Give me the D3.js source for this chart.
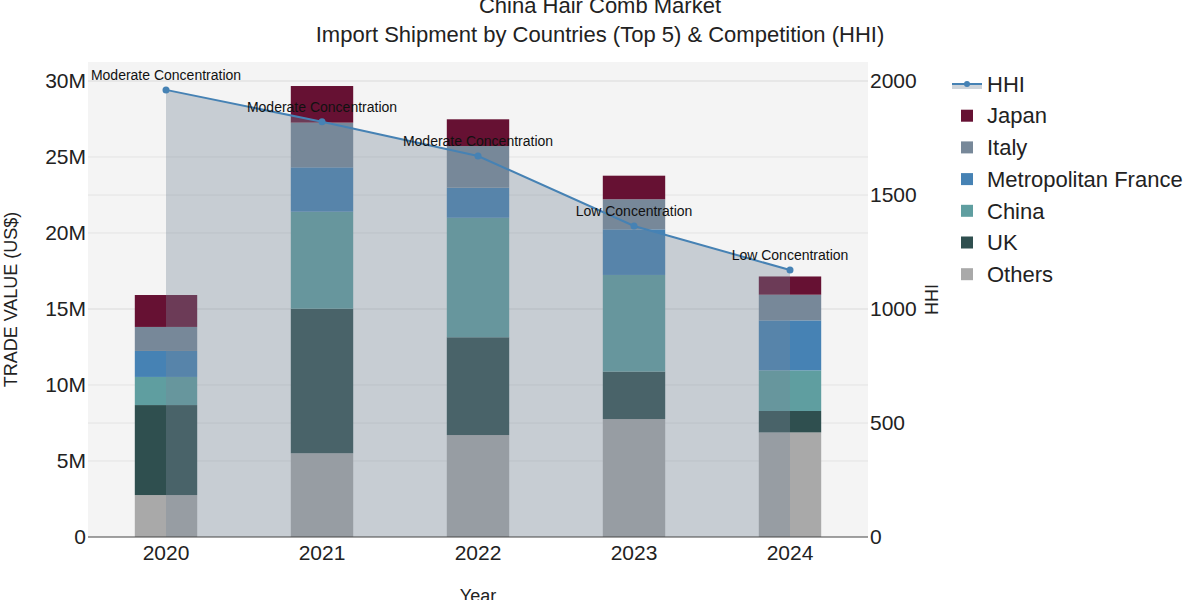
<!DOCTYPE html>
<html>
<head>
<meta charset="utf-8">
<script src="https://cdn.jsdelivr.net/npm/d3@7"></script>
<style>
  body { margin: 0; background: #fff; }
  svg { font-family: "Liberation Sans", Arial, sans-serif; }
</style>
</head>
<body>
<svg id="chart" width="1200" height="600"></svg>
<script>
// data
const years = ["2020", "2021", "2022", "2023", "2024"];
const countries = ["Others", "UK", "China", "Metropolitan France", "Italy", "Japan"];
const others = [2.76e6, 5.51e6, 6.71e6, 7.76e6, 6.88e6];
const uk = [5.92e6, 9.51e6, 6.43e6, 3.12e6, 1.41e6];
const china = [1.85e6, 6.38e6, 7.86e6, 6.36e6, 2.67e6];
const france = [1.71e6, 2.92e6, 1.98e6, 3.00e6, 3.29e6];
const italy = [1.58e6, 2.94e6, 2.74e6, 1.98e6, 1.69e6];
const japan = [2.10e6, 2.41e6, 1.76e6, 1.55e6, 1.20e6];
const hhi = [1961, 1821, 1671, 1364, 1171];
const hhiLabels = ["Moderate Concentration", "Moderate Concentration", "Moderate Concentration", "Low Concentration", "Low Concentration"];
const leftTicks = [0, 5e6, 10e6, 15e6, 20e6, 25e6, 30e6];
const rightTicks = [0, 500, 1000, 1500, 2000];
const colors = {
  "Japan": "#661133",
  "Italy": "#778899",
  "Metropolitan France": "#4682b4",
  "China": "#5f9ea0",
  "UK": "#2f4f4f",
  "Others": "#a9a9a9"
};

const seriesValues = {
  "Others": others, "UK": uk, "China": china,
  "Metropolitan France": france, "Italy": italy, "Japan": japan
};
const rows = years.map((y, i) => {
  const r = { year: y };
  countries.forEach(c => r[c] = seriesValues[c][i]);
  return r;
});

const margin = { top: 62, right: 332, bottom: 63, left: 88 };
const width = 1200, height = 600;
const svg = d3.select("#chart");

const x = d3.scaleBand()
  .domain(years)
  .range([margin.left, width - margin.right])
  .paddingInner(0.6)
  .paddingOuter(0.3);
const cx = d => x(d) + x.bandwidth() / 2;

const y = d3.scaleLinear()
  .domain([0, 31.25e6])
  .range([height - margin.bottom, margin.top]);

const yR = d3.scaleLinear()
  .domain([0, 2083.3])
  .range([height - margin.bottom, margin.top]);

// plot background
svg.append("rect")
  .attr("x", margin.left)
  .attr("y", margin.top)
  .attr("width", width - margin.left - margin.right)
  .attr("height", height - margin.top - margin.bottom)
  .attr("fill", "#f4f4f4");

// gridlines for both axes
svg.append("g")
  .selectAll("line")
  .data(leftTicks.slice(1))
  .join("line")
  .attr("x1", margin.left)
  .attr("x2", width - margin.right)
  .attr("y1", d => y(d))
  .attr("y2", d => y(d))
  .attr("stroke", "#e3e3e3");

svg.append("g")
  .selectAll("line")
  .data(rightTicks.slice(1))
  .join("line")
  .attr("x1", margin.left)
  .attr("x2", width - margin.right)
  .attr("y1", d => yR(d))
  .attr("y2", d => yR(d))
  .attr("stroke", "#e3e3e3");

// stacked bars
const stacked = d3.stack().keys(countries)(rows);
svg.append("g")
  .selectAll("g")
  .data(stacked)
  .join("g")
  .attr("fill", d => colors[d.key])
  .selectAll("rect")
  .data(d => d)
  .join("rect")
  .attr("x", d => x(d.data.year))
  .attr("width", x.bandwidth())
  .attr("y", d => y(d[1]))
  .attr("height", d => y(d[0]) - y(d[1]));

// HHI area + line (drawn over bars)
const hhiData = years.map((yr, i) => ({ year: yr, v: hhi[i], label: hhiLabels[i] }));

svg.append("path")
  .datum(hhiData)
  .attr("fill", "rgba(119,136,153,0.36)")
  .attr("d", d3.area()
    .x(d => cx(d.year))
    .y0(yR(0))
    .y1(d => yR(d.v)));

svg.append("path")
  .datum(hhiData)
  .attr("fill", "none")
  .attr("stroke", "#4682b4")
  .attr("stroke-width", 2)
  .attr("d", d3.line()
    .x(d => cx(d.year))
    .y(d => yR(d.v)));

svg.append("g")
  .selectAll("circle")
  .data(hhiData)
  .join("circle")
  .attr("cx", d => cx(d.year))
  .attr("cy", d => yR(d.v))
  .attr("r", 3.5)
  .attr("fill", "#4682b4");

svg.append("g")
  .selectAll("text")
  .data(hhiData)
  .join("text")
  .attr("x", d => cx(d.year))
  .attr("y", d => yR(d.v) - 10)
  .attr("text-anchor", "middle")
  .style("font-size", "14px")
  .attr("fill", "#111")
  .text(d => d.label);

// axes
const xAxis = svg.append("g")
  .attr("transform", `translate(0,${height - margin.bottom})`)
  .call(d3.axisBottom(x).tickSize(0).tickPadding(8));
xAxis.select(".domain").attr("stroke", "#444").attr("d", `M${margin.left},0H${width - margin.right}`);
xAxis.selectAll("text").style("font-size", "21px").attr("fill", "#222")
  .attr("font-family", "Liberation Sans, Arial, sans-serif");

const fmtM = d => d === 0 ? "0" : (d / 1e6) + "M";
const yAxis = svg.append("g")
  .attr("transform", `translate(${margin.left},0)`)
  .call(d3.axisLeft(y).tickValues(leftTicks).tickFormat(fmtM).tickSize(0).tickPadding(2));
yAxis.select(".domain").remove();
yAxis.selectAll("text").style("font-size", "21px").attr("fill", "#222")
  .attr("font-family", "Liberation Sans, Arial, sans-serif");

const yAxisR = svg.append("g")
  .attr("transform", `translate(${width - margin.right},0)`)
  .call(d3.axisRight(yR).tickValues(rightTicks).tickFormat(d3.format("d")).tickSize(0).tickPadding(2));
yAxisR.select(".domain").remove();
yAxisR.selectAll("text").style("font-size", "21px").attr("fill", "#222")
  .attr("font-family", "Liberation Sans, Arial, sans-serif");

// axis titles
svg.append("text")
  .attr("transform", `translate(17,${(margin.top + height - margin.bottom) / 2}) rotate(-90)`)
  .attr("text-anchor", "middle")
  .style("font-size", "18px")
  .attr("fill", "#222")
  .text("TRADE VALUE (US$)");

svg.append("text")
  .attr("transform", `translate(938,${(margin.top + height - margin.bottom) / 2}) rotate(-90)`)
  .attr("text-anchor", "middle")
  .style("font-size", "18px")
  .attr("fill", "#222")
  .text("HHI");

svg.append("text")
  .attr("x", (margin.left + width - margin.right) / 2)
  .attr("y", 602)
  .attr("text-anchor", "middle")
  .style("font-size", "18px")
  .attr("fill", "#222")
  .text("Year");

// title
const title = svg.append("text")
  .attr("text-anchor", "middle")
  .style("font-size", "22px")
  .attr("fill", "#222");
title.append("tspan").attr("x", 600).attr("y", 13).text("China Hair Comb Market");
title.append("tspan").attr("x", 600).attr("y", 42).text("Import Shipment by Countries (Top 5) & Competition (HHI)");

// legend
const legend = svg.append("g").attr("transform", "translate(952,84)");
const hhiItem = legend.append("g");
hhiItem.append("rect").attr("x", 0).attr("y", 0).attr("width", 30).attr("height", 5).attr("fill", "rgba(119,136,153,0.36)");
hhiItem.append("line").attr("x1", 0).attr("x2", 30).attr("y1", 0).attr("y2", 0).attr("stroke", "#4682b4").attr("stroke-width", 2);
hhiItem.append("circle").attr("cx", 15).attr("cy", 0).attr("r", 3).attr("fill", "#4682b4");
hhiItem.append("text").attr("x", 35).attr("y", 0).attr("dy", "0.35em").style("font-size", "22px").attr("fill", "#222").text("HHI");

const legendOrder = countries.slice().reverse();
const items = legend.selectAll("g.item")
  .data(legendOrder)
  .join("g")
  .attr("class", "item")
  .attr("transform", (d, i) => `translate(0,${(i + 1) * 31.7})`);
items.append("rect")
  .attr("x", 9).attr("y", -6).attr("width", 12).attr("height", 12)
  .attr("fill", d => colors[d]);
items.append("text")
  .attr("x", 35).attr("y", 0).attr("dy", "0.35em")
  .style("font-size", "22px").attr("fill", "#222")
  .text(d => d);
</script>
</body>
</html>
